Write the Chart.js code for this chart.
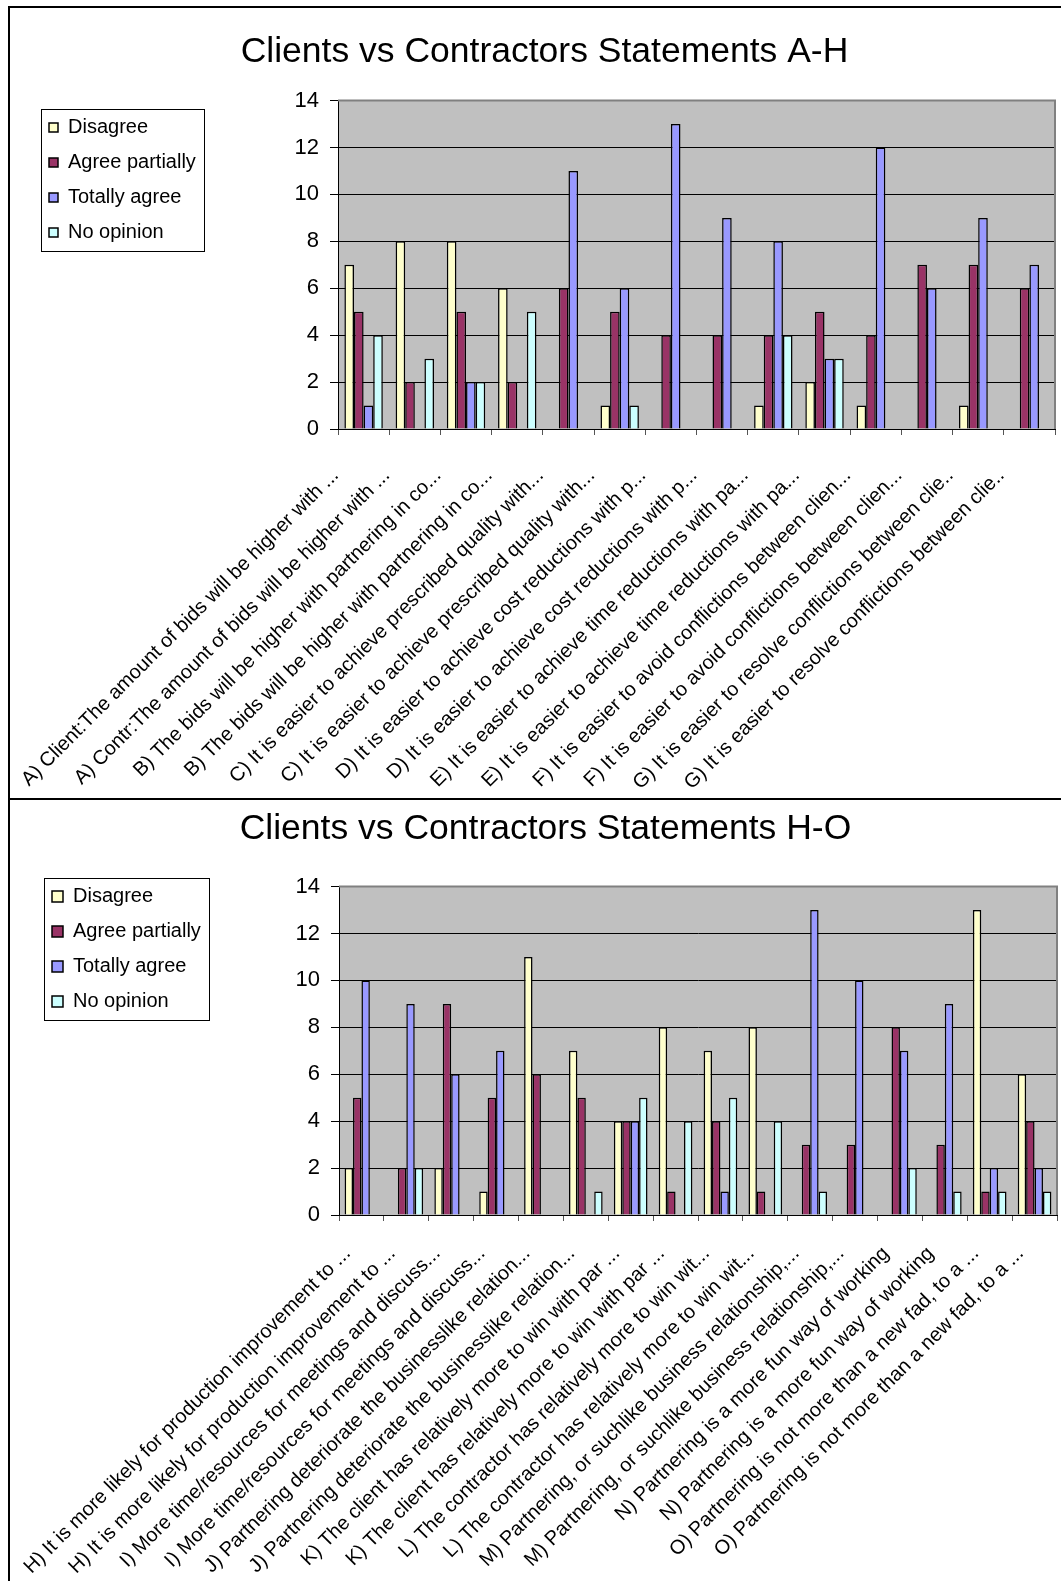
<!DOCTYPE html>
<html>
<head>
<meta charset="utf-8">
<script src="https://cdn.jsdelivr.net/npm/chart.js@4.4.1/dist/chart.umd.min.js"></script>
<style>
  html, body { margin: 0; padding: 0; background: #fff; width: 1061px; height: 1581px; overflow: hidden; }
  .frame { position: absolute; left: 8px; top: 6px; width: 1200px; height: 1700px;
           border-left: 2px solid #000; border-top: 2px solid #000; }
  .divider { position: absolute; left: 8px; top: 798px; width: 1200px; height: 2px; background: #000; }
  canvas { position: absolute; left: 10px; }
  #chartAH { top: 0; }
  #chartHO { top: 800px; }
</style>
</head>
<body>
<div class="frame"></div>
<div class="divider"></div>
<canvas id="chartAH" width="1051" height="798"></canvas>
<canvas id="chartHO" width="1051" height="781"></canvas>
<script>
// Answer categories shared by both charts
const seriesNames = ['Disagree', 'Agree partially', 'Totally agree', 'No opinion'];
const seriesColors = ['#FFFFCC', '#993366', '#9999FF', '#CCFFFF'];
const yTicks = [0, 2, 4, 6, 8, 10, 12, 14];

// Statements A-H (client and contractor answer for each statement)
const statementsAH = [
  'A) Client:The amount of bids will be higher with ...',
  'A) Contr:The amount of bids will be higher with ...',
  'B) The bids will be higher with partnering in co...',
  'B) The bids will be higher with partnering in co...',
  'C) It is easier to achieve prescribed quality with...',
  'C) It is easier to achieve prescribed quality with...',
  'D) It is easier to achieve cost reductions with p...',
  'D) It is easier to achieve cost reductions with p...',
  'E) It is easier to achieve time reductions with pa...',
  'E) It is easier to achieve time reductions with pa...',
  'F) It is easier to avoid conflictions between clien...',
  'F) It is easier to avoid conflictions between clien...',
  'G) It is easier to resolve conflictions between clie..',
  'G) It is easier to resolve conflictions between clie..'
];
const disagreeAH       = [7, 8, 8, 6, 0, 1, 0, 0, 1, 2, 1, 0, 1, 0];
const agreePartiallyAH = [5, 2, 5, 2, 6, 5, 4, 4, 4, 5, 4, 7, 7, 6];
const totallyAgreeAH   = [1, 0, 2, 0, 11, 6, 13, 9, 8, 3, 12, 6, 9, 7];
const noOpinionAH      = [4, 3, 2, 5, 0, 1, 0, 0, 4, 3, 0, 0, 0, 0];

// Statements H-O
const statementsHO = [
  'H) It is more likely for production improvement to ...',
  'H) It is more likely for production improvement to ...',
  'I) More time/resources for meetings and discuss...',
  'I) More time/resources for meetings and discuss...',
  'J) Partnering deteriorate the businesslike relation...',
  'J) Partnering deteriorate the businesslike relation...',
  'K) The client has relatively more to win with par ...',
  'K) The client has relatively more to win with par ...',
  'L) The contractor has relatively more to win wit...',
  'L) The contractor has relatively more to win wit...',
  'M) Partnering, or suchlike business relationship,...',
  'M) Partnering, or suchlike business relationship,...',
  'N) Partnering is a more fun way of working',
  'N) Partnering is a more fun way of working',
  'O) Partnering is not more than a new fad, to a ...',
  'O) Partnering is not more than a new fad, to a ...'
];
const disagreeHO       = [2, 0, 2, 1, 11, 7, 4, 8, 7, 8, 0, 0, 0, 0, 13, 6];
const agreePartiallyHO = [5, 2, 9, 5, 6, 5, 4, 1, 4, 1, 3, 3, 8, 3, 1, 4];
const totallyAgreeHO   = [10, 9, 6, 7, 0, 0, 4, 0, 1, 0, 13, 10, 7, 9, 2, 2];
const noOpinionHO      = [0, 2, 0, 0, 0, 1, 5, 4, 5, 4, 1, 0, 2, 1, 1, 1];

Chart.defaults.font.family = "'Liberation Sans', Arial, sans-serif";
Chart.defaults.color = '#000';

// Grey plot area, its grey top/right frame, and a framed legend
const plotDecor = {
  id: 'plotDecor',
  afterLayout(chart, args, opts) {
    const lg = chart.legend;
    if (!lg) return;
    const dx = opts.legendShiftX || 0, dy = opts.legendShiftY || 0;
    lg.left += dx; lg.right += dx; lg.top += dy; lg.bottom += dy;
  },
  beforeDraw(chart) {
    const { ctx, chartArea: a } = chart;
    ctx.save();
    ctx.fillStyle = '#C0C0C0';
    ctx.fillRect(a.left, a.top, a.right - a.left, a.bottom - a.top);
    ctx.restore();
  },
  afterDatasetsDraw(chart) {
    const { ctx, chartArea: a } = chart;
    ctx.save();
    ctx.strokeStyle = '#808080';
    ctx.lineWidth = 2;
    ctx.beginPath();
    ctx.moveTo(a.left, a.top);
    ctx.lineTo(a.right, a.top);
    ctx.lineTo(a.right, a.bottom);
    ctx.stroke();
    ctx.restore();
  },
  afterDraw(chart) {
    const boxes = chart.legend && chart.legend.legendHitBoxes;
    if (!boxes || !boxes.length) return;
    let l = Infinity, t = Infinity, r = -Infinity, b = -Infinity;
    boxes.forEach(h => {
      l = Math.min(l, h.left); t = Math.min(t, h.top);
      r = Math.max(r, h.left + h.width); b = Math.max(b, h.top + h.height);
    });
    const ctx = chart.ctx;
    ctx.save();
    ctx.strokeStyle = '#000';
    ctx.lineWidth = 1;
    ctx.strokeRect(Math.round(l - 8) + 0.5, Math.round(t - 9) + 0.5,
                   Math.round(r - l + 16), Math.round(b - t + 17));
    ctx.restore();
  }
};

function buildChart(canvasId, title, labels, values, layout) {
  const datasets = seriesNames.map((name, i) => ({
    label: name,
    data: values[i],
    backgroundColor: seriesColors[i],
    borderColor: '#000',
    borderWidth: 1.5,
    categoryPercentage: 0.75,
    barPercentage: 1.0
  }));
  return new Chart(document.getElementById(canvasId), {
    type: 'bar',
    data: { labels, datasets },
    plugins: [plotDecor],
    options: {
      responsive: false,
      animation: false,
      devicePixelRatio: 1,
      layout: { padding: { left: layout.padLeft, right: layout.padRight, top: 0, bottom: 0 } },
      plugins: {
        title: {
          display: true,
          text: title,
          color: '#000',
          font: { size: 35.5, weight: 'normal' },
          padding: { top: layout.titleTop, bottom: layout.titleBottom }
        },
        legend: {
          position: 'left',
          align: 'start',
          fullSize: false,
          labels: {
            boxWidth: layout.boxSize,
            boxHeight: layout.boxSize,
            padding: 15,
            color: '#000',
            font: { size: 20 }
          }
        },
        tooltip: { enabled: false },
        plotDecor: { legendShiftX: layout.legendShiftX, legendShiftY: layout.legendShiftY }
      },
      scales: {
        x: {
          ticks: {
            autoSkip: false,
            maxRotation: 45,
            minRotation: 45,
            color: '#000',
            font: { size: 20 },
            padding: layout.labelPad,
            labelOffset: layout.labelOffset
          },
          grid: { drawOnChartArea: false, offset: true, tickLength: 6, color: '#555' },
          border: { color: '#000', width: 1 },
          afterFit(s) {
            // the slanted labels hang below the plot; keep them from narrowing it
            s.height = layout.xHeight;
            s.paddingLeft = 0;
            s.paddingRight = 0;
          }
        },
        y: {
          min: yTicks[0],
          max: yTicks[yTicks.length - 1],
          afterBuildTicks(s) { s.ticks = yTicks.map(v => ({ value: v })); },
          ticks: { color: '#000', font: { size: 22 }, padding: 11 },
          grid: {
            color: c => (c.tick && c.tick.value === yTicks[yTicks.length - 1]) ? '#808080' : '#000',
            tickColor: '#000',
            tickLength: 8,
            lineWidth: 1
          },
          border: { color: '#000', width: 1 },
          afterFit(s) {
            const lw = (s.chart.legend && s.chart.legend.width) ? s.chart.legend.width : 0;
            s.width = layout.plotLeft - layout.padLeft - lw;
          }
        }
      }
    }
  });
}

buildChart('chartAH', 'Clients vs Contractors Statements A-H', statementsAH,
  [disagreeAH, agreePartiallyAH, totallyAgreeAH, noOpinionAH],
  { padLeft: 24, padRight: 6, plotLeft: 328, titleTop: 31, titleBottom: 27,
    xHeight: 369, labelPad: 29, labelOffset: -28, boxSize: 9,
    legendShiftX: 0, legendShiftY: 2 });

buildChart('chartHO', 'Clients vs Contractors Statements H-O', statementsHO,
  [disagreeHO, agreePartiallyHO, totallyAgreeHO, noOpinionHO],
  { padLeft: 24, padRight: 4, plotLeft: 329, titleTop: 8, titleBottom: 36,
    xHeight: 366, labelPad: 21, labelOffset: -14, boxSize: 11,
    legendShiftX: 3, legendShiftY: -15 });
</script>
</body>
</html>
